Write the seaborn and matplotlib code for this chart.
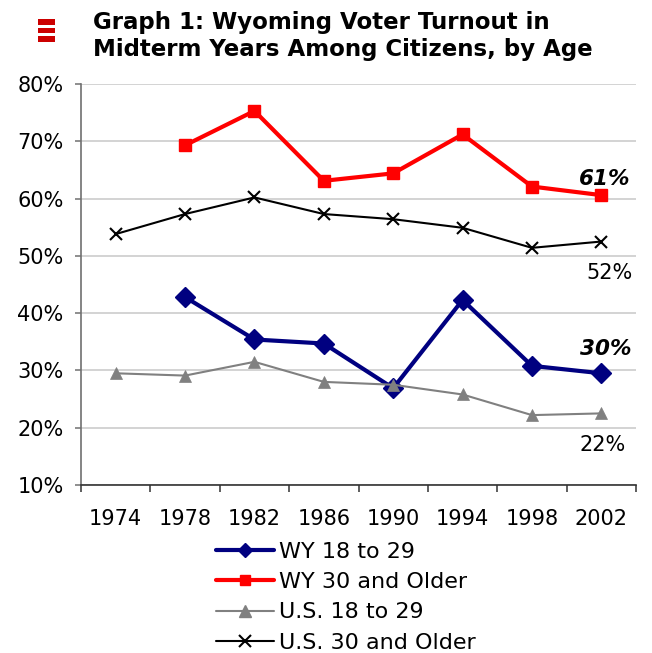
import numpy as np
import pandas as pd
import matplotlib
matplotlib.use("Agg")
import matplotlib.pyplot as plt
from matplotlib.lines import Line2D
from matplotlib.patches import Rectangle
import seaborn as sns

# ---- data ----
years = ["1974", "1978", "1982", "1986", "1990", "1994", "1998", "2002"]
wy_18_29 = [np.nan, 42.8, 35.4, 34.7, 26.9, 42.3, 30.8, 29.5]
wy_30_older = [np.nan, 69.3, 75.3, 63.1, 64.4, 71.2, 62.1, 60.6]
us_18_29 = [29.5, 29.1, 31.5, 28.0, 27.5, 25.8, 22.2, 22.5]
us_30_older = [53.8, 57.3, 60.2, 57.3, 56.4, 54.9, 51.4, 52.5]
series_names = ["WY 18 to 29", "WY 30 and Older", "U.S. 18 to 29", "U.S. 30 and Older"]
end_labels = ["30%", "61%", "22%", "52%"]
y_ticks = [10, 20, 30, 40, 50, 60, 70, 80]

sns.set_style("white")
plt.rcParams["font.family"] = ["DejaVu Sans"]
plt.rcParams["text.color"] = "black"
plt.rcParams["axes.labelcolor"] = "black"
plt.rcParams["xtick.color"] = "black"
plt.rcParams["ytick.color"] = "black"

W, H = 652, 653
fig = plt.figure(figsize=(W / 100, H / 100), dpi=100)
ax = fig.add_axes([81 / W, 1 - 485 / H, (636 - 81) / W, (485 - 84) / H])

pos = np.arange(len(years))
styles = [
    dict(color="#000080", lw=3.0, marker="D", ms=10.5, mew=1),
    dict(color="#FF0000", lw=3.0, marker="s", ms=8, mew=1),
    dict(color="#808080", lw=1.5, marker="^", ms=9, mew=0.5),
    dict(color="#000000", lw=1.5, marker="x", ms=9, mew=1.5),
]
values = [wy_18_29, wy_30_older, us_18_29, us_30_older]

# draw grey and black first so that the bold lines sit on top
order = [2, 3, 0, 1]
for i in order:
    st = styles[i]
    df = pd.DataFrame({"x": pos, "y": values[i]}).dropna()
    sns.lineplot(data=df, x="x", y="y", ax=ax, color=st["color"], linewidth=st["lw"],
                 marker=st["marker"], markersize=st["ms"], markeredgewidth=st["mew"],
                 markeredgecolor=st["color"], errorbar=None, legend=False,
                 zorder=3 + i)

ax.set_xlim(-0.5, len(years) - 0.5)
ax.set_ylim(10, 80)
ax.set_xlabel("")
ax.set_ylabel("")

ax.set_yticks(y_ticks)
ax.set_yticklabels([f"{t}%" for t in y_ticks])
ax.set_xticks(pos)
ax.set_xticklabels(years)
ax.set_xticks(np.arange(len(years) + 1) - 0.5, minor=True)

ax.grid(axis="y", color="#d0d0d0", lw=1.3, zorder=0)
ax.set_axisbelow(True)
for s in ["top", "right"]:
    ax.spines[s].set_visible(False)
ax.spines["left"].set_color("#707070")
ax.spines["left"].set_linewidth(1.2)
ax.spines["bottom"].set_color("#333333")
ax.spines["bottom"].set_linewidth(1.2)

ax.tick_params(axis="x", which="major", length=0, pad=17, labelsize=15, labelcolor="#000000")
ax.tick_params(axis="x", which="minor", length=5, width=1.1, color="#333333", direction="out", bottom=True)
ax.tick_params(axis="y", which="major", length=4.5, width=1.1, color="#707070", direction="out",
               left=True, pad=8, labelsize=15, labelcolor="#000000")

# end-of-line annotations
ann_y = [33.75, 63.4, 17.0, 47.0]
ann_x = [7.07, 7.05, 7.02, 7.12]
ann_bold = [True, True, False, False]
for lab, xv, yv, b in zip(end_labels, ann_x, ann_y, ann_bold):
    ax.text(xv, yv, lab, ha="center", va="center",
            fontsize=15.5 if b else 15,
            fontweight="bold" if b else "normal",
            fontstyle="italic" if b else "normal", color="#000000", zorder=10)

# title and icon
fig.text(93 / W, 1 - 29 / H, "Graph 1: Wyoming Voter Turnout in", fontsize=16.5,
         fontweight="bold", ha="left", va="baseline", color="black")
fig.text(93 / W, 1 - 56 / H, "Midterm Years Among Citizens, by Age", fontsize=16.5,
         fontweight="bold", ha="left", va="baseline", color="black")
for y0, y1 in [(19, 24.5), (27.5, 33), (36, 41.7)]:
    fig.patches.append(Rectangle((38 / W, 1 - y1 / H), 17 / W, (y1 - y0) / H,
                                 transform=fig.transFigure, color="#CC0000", lw=0))

# legend
handles = [
    Line2D([], [], color=styles[0]["color"], lw=3, marker="D", ms=7),
    Line2D([], [], color=styles[1]["color"], lw=3, marker="s", ms=7),
    Line2D([], [], color=styles[2]["color"], lw=1.5, marker="^", ms=8),
    Line2D([], [], color=styles[3]["color"], lw=1.5, marker="x", ms=8, mew=1.5),
]
leg = fig.legend(handles, series_names, loc="upper left", bbox_to_anchor=(216 / W, 1 - 542 / H),
                 frameon=False, fontsize=16, handlelength=2.6, handletextpad=0.25,
                 labelspacing=0.46, borderpad=0, borderaxespad=0)
for t in leg.get_texts():
    t.set_color("black")

fig.savefig("out.png", dpi=100)
